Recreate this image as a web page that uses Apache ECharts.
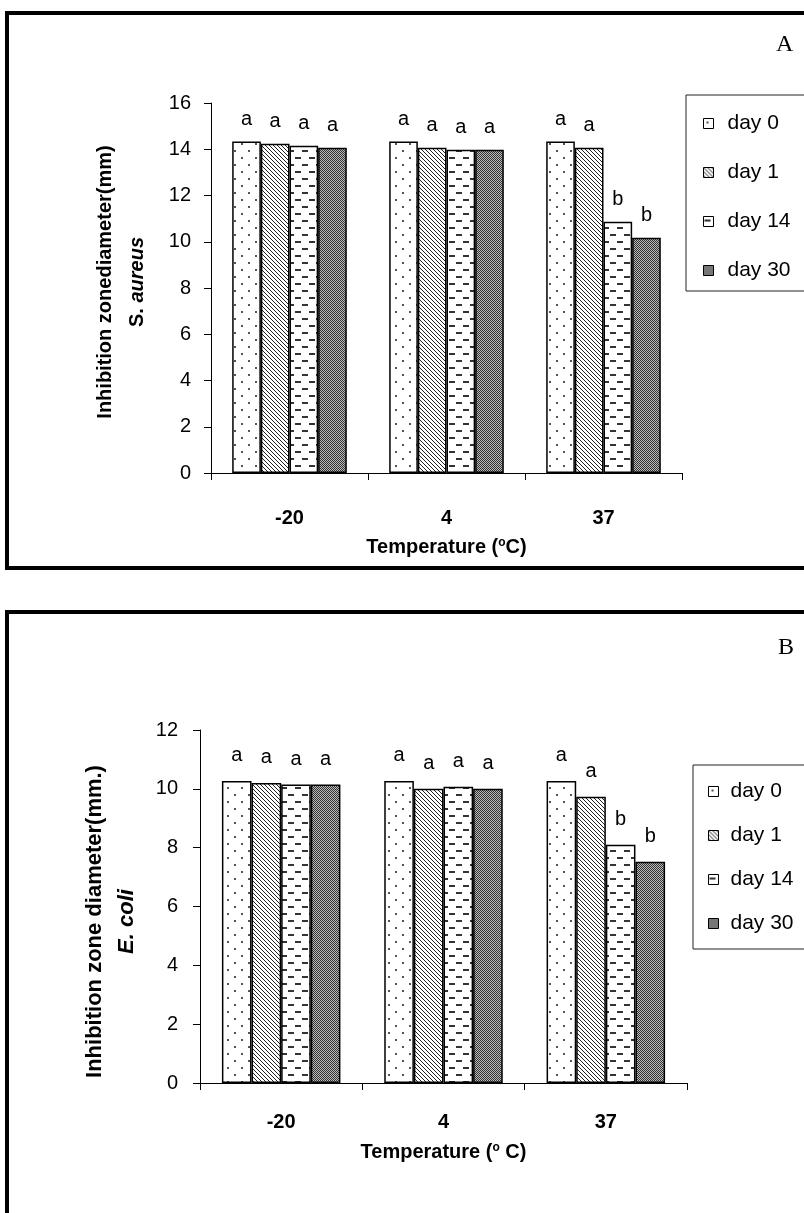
<!DOCTYPE html>
<html>
<head>
<meta charset="utf-8">
<script src="https://cdn.jsdelivr.net/npm/echarts@6/dist/echarts.min.js"></script>
<style>
  html, body { margin: 0; padding: 0; background: #fff; }
  #chart { width: 804px; height: 1213px; }
</style>
</head>
<body>
<div id="chart"></div>
<script>
// categories and series names
const categories = ['-20', '4', '37'];
const dayNames = ['day 0', 'day 1', 'day 14', 'day 30'];

// panel A - S. aureus (mm)
const aureusDay0 = [14.33, 14.33, 14.33];
const aureusDay1 = [14.24, 14.07, 14.07];
const aureusDay14 = [14.15, 13.98, 10.87];
const aureusDay30 = [14.07, 13.98, 10.17];

// panel B - E. coli (mm)
const coliDay0 = [10.27, 10.27, 10.27];
const coliDay1 = [10.2, 10.0, 9.73];
const coliDay14 = [10.15, 10.07, 8.1];
const coliDay30 = [10.15, 10.0, 7.52];

// letters above the bars (same in both panels)
const lettersDay0 = ['a', 'a', 'a'];
const lettersDay1 = ['a', 'a', 'a'];
const lettersDay14 = ['a', 'a', 'b'];
const lettersDay30 = ['a', 'a', 'b'];

// y axis ranges
const yMaxA = 16;
const yMaxB = 12;
const yStep = 2;

const FONT = 'Liberation Sans';

// fill patterns drawn on small canvases
function makePattern(kind) {
    const c = document.createElement('canvas');
    const ctx = c.getContext('2d');
    if (kind === 'dots') {
        c.width = 14; c.height = 14;
        ctx.fillStyle = '#fff'; ctx.fillRect(0, 0, 14, 14);
        ctx.fillStyle = '#555';
        ctx.fillRect(3, 3, 2, 2);
        ctx.fillRect(10, 10, 2, 2);
    } else if (kind === 'diag') {
        c.width = 4; c.height = 4;
        ctx.fillStyle = '#fff'; ctx.fillRect(0, 0, 4, 4);
        ctx.fillStyle = '#222';
        for (let i = 0; i < 4; i++) ctx.fillRect(i, i, 1, 1);
    } else if (kind === 'dash') {
        c.width = 14; c.height = 14;
        ctx.fillStyle = '#fff'; ctx.fillRect(0, 0, 14, 14);
        ctx.fillStyle = '#333';
        ctx.fillRect(1, 3, 6, 2);
        ctx.fillRect(8, 10, 6, 2);
    } else {
        c.width = 2; c.height = 2;
        ctx.fillStyle = '#bbb'; ctx.fillRect(0, 0, 2, 2);
        ctx.fillStyle = '#333';
        ctx.fillRect(0, 0, 1, 1);
        ctx.fillRect(1, 1, 1, 1);
    }
    return { image: c, repeat: 'repeat' };
}
const fills = [makePattern('dots'), makePattern('diag'), makePattern('dash'), makePattern('grid')];
const letters = [lettersDay0, lettersDay1, lettersDay14, lettersDay30];

function barSeries(idx, data, axisIdx, dist) {
    return {
        name: dayNames[idx],
        type: 'bar',
        xAxisIndex: axisIdx,
        yAxisIndex: axisIdx,
        data: data,
        barGap: '0%',
        barCategoryGap: '27%',
        itemStyle: { color: fills[idx], borderColor: '#000', borderWidth: 1.5 },
        label: {
            show: true,
            position: 'top',
            distance: dist,
            fontFamily: FONT,
            fontSize: 20,
            color: '#000',
            formatter: (p) => letters[idx][p.dataIndex]
        },
        emphasis: { disabled: true },
        animation: false
    };
}

function xAxisFor(gridIdx, nameText, labelMargin, nameGap) {
    return {
        type: 'category',
        gridIndex: gridIdx,
        data: categories,
        axisLine: { lineStyle: { color: '#000', width: 1 } },
        axisTick: { show: true, length: 7, interval: 0, alignWithLabel: false, lineStyle: { color: '#000' } },
        axisLabel: { margin: labelMargin, fontFamily: FONT, fontSize: 20, fontWeight: 'bold', color: '#000' },
        name: nameText,
        nameLocation: 'middle',
        nameGap: nameGap,
        nameTextStyle: {
            rich: {
                t: { fontFamily: FONT, fontSize: 20, fontWeight: 'bold', color: '#000' },
                sup: { fontFamily: FONT, fontSize: 12, fontWeight: 'bold', color: '#000', padding: [0, 0, 9, 0] }
            }
        }
    };
}

function yAxisFor(gridIdx, max, nameText, nameGap, labelMargin, size, shift) {
    const base = { fontFamily: FONT, fontSize: size, fontWeight: 'bold', color: '#000', lineHeight: 32 };
    return {
        type: 'value',
        gridIndex: gridIdx,
        min: 0,
        max: max,
        interval: yStep,
        splitLine: { show: false },
        axisLine: { show: true, lineStyle: { color: '#000', width: 1 } },
        axisTick: { show: true, length: 7, lineStyle: { color: '#000' } },
        axisLabel: { margin: labelMargin, fontFamily: FONT, fontSize: 20, color: '#000' },
        name: nameText,
        nameLocation: 'middle',
        nameRotate: 90,
        nameGap: nameGap,
        nameTextStyle: {
            // padding moves the rotated block along the axis
            padding: shift > 0 ? [0, 0, 0, shift] : [0, -shift, 0, 0],
            rich: {
                t: base,
                s: base,
                i: Object.assign({}, base, { fontStyle: 'italic' })
            }
        }
    };
}

function legendFor(left, top, gap, pad) {
    return {
        orient: 'vertical',
        left: left,
        top: top,
        itemGap: gap,
        itemWidth: 10,
        itemHeight: 10,
        icon: 'rect',
        data: dayNames,
        selectedMode: false,
        itemStyle: { borderColor: '#000', borderWidth: 1 },
        textStyle: { fontFamily: FONT, fontSize: 21, color: '#000', padding: [0, 0, 0, pad] }
    };
}

let myChart = echarts.init(document.getElementById('chart'));
let option = {
    backgroundColor: '#fff',
    animation: false,
    grid: [
        { left: 211, top: 103, width: 471, height: 370, outerBoundsMode: 'none' },
        { left: 200, top: 730, width: 487, height: 353, outerBoundsMode: 'none' }
    ],
    xAxis: [
        xAxisFor(0, '{t|Temperature (}{sup|o}{t|C)}', 35, 64),
        xAxisFor(1, '{t|Temperature (}{sup|o}{t| C)}', 29, 59)
    ],
    yAxis: [
        yAxisFor(0, yMaxA, '{t|Inhibition zonediameter(mm)}\n{s|S. }{i|aureus}', 58, 20, 20, 12),
        yAxisFor(1, yMaxB, '{t|Inhibition zone diameter(mm.)}\n{i|E. coli}', 57, 22, 22, -30)
    ],
    legend: [legendFor(698, 108, 28, 9), legendFor(703, 776, 23, 7)],
    graphic: [
        // panel frames
        { type: 'rect', shape: { x: 7, y: 13, width: 830, height: 555 }, style: { fill: 'none', stroke: '#000', lineWidth: 4 } },
        { type: 'rect', shape: { x: 7, y: 612, width: 830, height: 700 }, style: { fill: 'none', stroke: '#000', lineWidth: 4 } },
        // legend boxes
        { type: 'rect', shape: { x: 686, y: 95, width: 140, height: 196 }, style: { fill: 'none', stroke: '#222', lineWidth: 1 } },
        { type: 'rect', shape: { x: 693, y: 765, width: 140, height: 184 }, style: { fill: 'none', stroke: '#222', lineWidth: 1 } },
        // panel letters
        { type: 'text', left: 776, top: 33, style: { text: 'A', fontFamily: 'Liberation Serif', fontSize: 24, fill: '#000' } },
        { type: 'text', left: 778, top: 636, style: { text: 'B', fontFamily: 'Liberation Serif', fontSize: 24, fill: '#000' } }
    ],
    series: [
        barSeries(0, aureusDay0, 0, 12),
        barSeries(1, aureusDay1, 0, 12),
        barSeries(2, aureusDay14, 0, 12),
        barSeries(3, aureusDay30, 0, 12),
        barSeries(0, coliDay0, 1, 15),
        barSeries(1, coliDay1, 1, 15),
        barSeries(2, coliDay14, 1, 15),
        barSeries(3, coliDay30, 1, 15)
    ]
};
myChart.setOption(option);
</script>
</body>
</html>
